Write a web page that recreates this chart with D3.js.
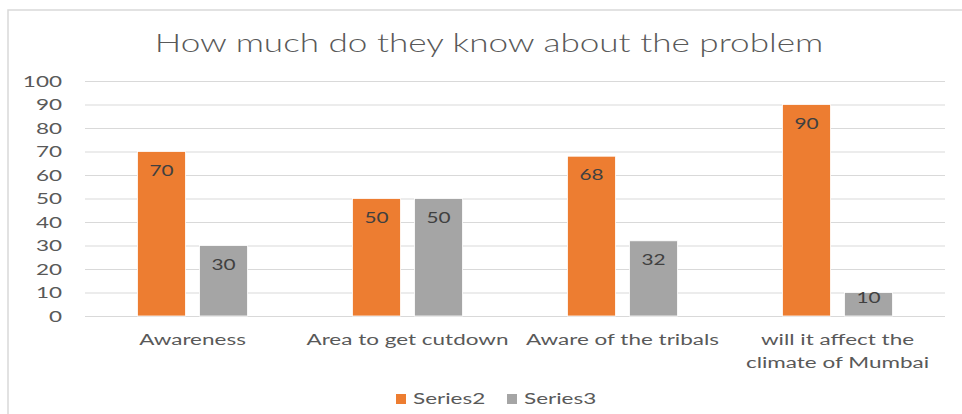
<!DOCTYPE html>
<html><head><meta charset="utf-8">
<script src="https://cdn.jsdelivr.net/npm/d3@7"></script>
<style>body{margin:0;background:#fff;overflow:hidden}</style></head>
<body>
<svg id="c" width="962" height="414"></svg>
<script>
const title = "How much do they know about the problem";
const categories = ["Awareness", "Area to get cutdown", "Aware of the tribals", "will it affect the\nclimate of Mumbai"];
const seriesNames = ["Series2", "Series3"];
const series2 = [70, 50, 68, 90];
const series3 = [30, 50, 32, 10];
const yTicks = [0, 10, 20, 30, 40, 50, 60, 70, 80, 90, 100];
const colors = ["#ED7D31", "#A5A5A5"];

const FONT = "Lato, 'Open Sans', sans-serif";
const SX = 1.5;   // horizontal stretch of small text as in reference
const SXT = 1.35; // title stretch
const SXD = 1.3;  // data label stretch
const svg = d3.select("#c");

// chart border (top & left visible)
svg.append("path").attr("d", "M8,415 L8,10 L963,10").attr("fill", "none")
  .attr("stroke", "#d9d9d9").attr("stroke-width", 1.5);

const plot = {left: 85, right: 945, top: 81, bottom: 316};
const y = d3.scaleLinear().domain([0, 100]).range([plot.bottom, plot.top]);
const x0 = d3.scaleBand().domain(categories).range([plot.left, plot.right]).paddingInner(0.488).paddingOuter(0.244);
const x1 = d3.scaleBand().domain(seriesNames).range([0, x0.bandwidth()]).paddingInner(0.226);

function place(sel, x, yy, s) {
  sel.attr("transform", `translate(${x},${yy}) scale(${s},1)`);
}

// title
place(svg.append("text").text(title).attr("text-anchor", "middle")
  .attr("font-family", FONT).attr("font-size", 26).attr("font-weight", 300).attr("fill", "#595959"), 489, 52, SXT);

// gridlines
svg.append("g").selectAll("line").data(yTicks).join("line")
  .attr("x1", plot.left).attr("x2", plot.right)
  .attr("y1", d => y(d) + 0.5).attr("y2", d => y(d) + 0.5)
  .attr("stroke", "#d9d9d9").attr("stroke-width", 1.2);

// y axis labels
const ax = svg.append("g").attr("transform", `translate(${plot.left},0)`)
  .call(d3.axisLeft(y).tickValues(yTicks).tickSize(0).tickPadding(23));
ax.select(".domain").remove();
ax.selectAll("text").attr("font-family", FONT).attr("font-size", 15).attr("fill", "#595959")
  .attr("x", -23 / SX).attr("dy", "0.35em").attr("transform", `scale(${SX},1)`);

// bars
const data = categories.map((c, i) => ({c, vals: [series2[i], series3[i]]}));
const grp = svg.append("g").selectAll("g").data(data).join("g")
  .attr("transform", d => `translate(${x0(d.c)},0)`);
grp.selectAll("rect").data(d => d.vals.map((v, j) => ({s: seriesNames[j], v, j}))).join("rect")
  .attr("x", d => x1(d.s)).attr("width", x1.bandwidth())
  .attr("y", d => y(d.v)).attr("height", d => y(0) - y(d.v))
  .attr("fill", d => colors[d.j]).attr("stroke", "#fff").attr("stroke-width", 0.8);

// data labels
grp.selectAll("text.lbl").data(d => d.vals.map((v, j) => ({s: seriesNames[j], v, j}))).join("text")
  .attr("class", "lbl").text(d => d.v).attr("text-anchor", "middle")
  .attr("font-family", FONT).attr("font-size", 16).attr("fill", "#404040")
  .each(function(d) {
    const h = y(0) - y(d.v);
    const off = Math.max(10, Math.min(24, h - 13));
    place(d3.select(this), x1(d.s) + x1.bandwidth() / 2, y(d.v) + off, SXD);
  });

// category labels
const cl = svg.append("g").selectAll("g").data(categories).join("g");
cl.each(function(c) {
  const lines = c.split("\n");
  lines.forEach((ln, k) => {
    place(d3.select(this).append("text").text(ln).attr("text-anchor", "middle")
      .attr("font-family", FONT).attr("font-size", 15).attr("fill", "#595959"),
      x0(c) + x0.bandwidth() / 2, 345 + k * 23, SX);
  });
});

// legend
const legX = [396, 507];
const leg = svg.append("g").selectAll("g").data(seriesNames).join("g")
  .attr("transform", (d, i) => `translate(${legX[i]},394)`);
leg.append("rect").attr("width", 10).attr("height", 10).attr("fill", (d, i) => colors[i]);
leg.append("text").text(d => d).attr("font-family", FONT).attr("font-size", 15).attr("fill", "#595959")
  .attr("transform", `translate(17,10) scale(${SX},1)`);
</script>
</body></html>
